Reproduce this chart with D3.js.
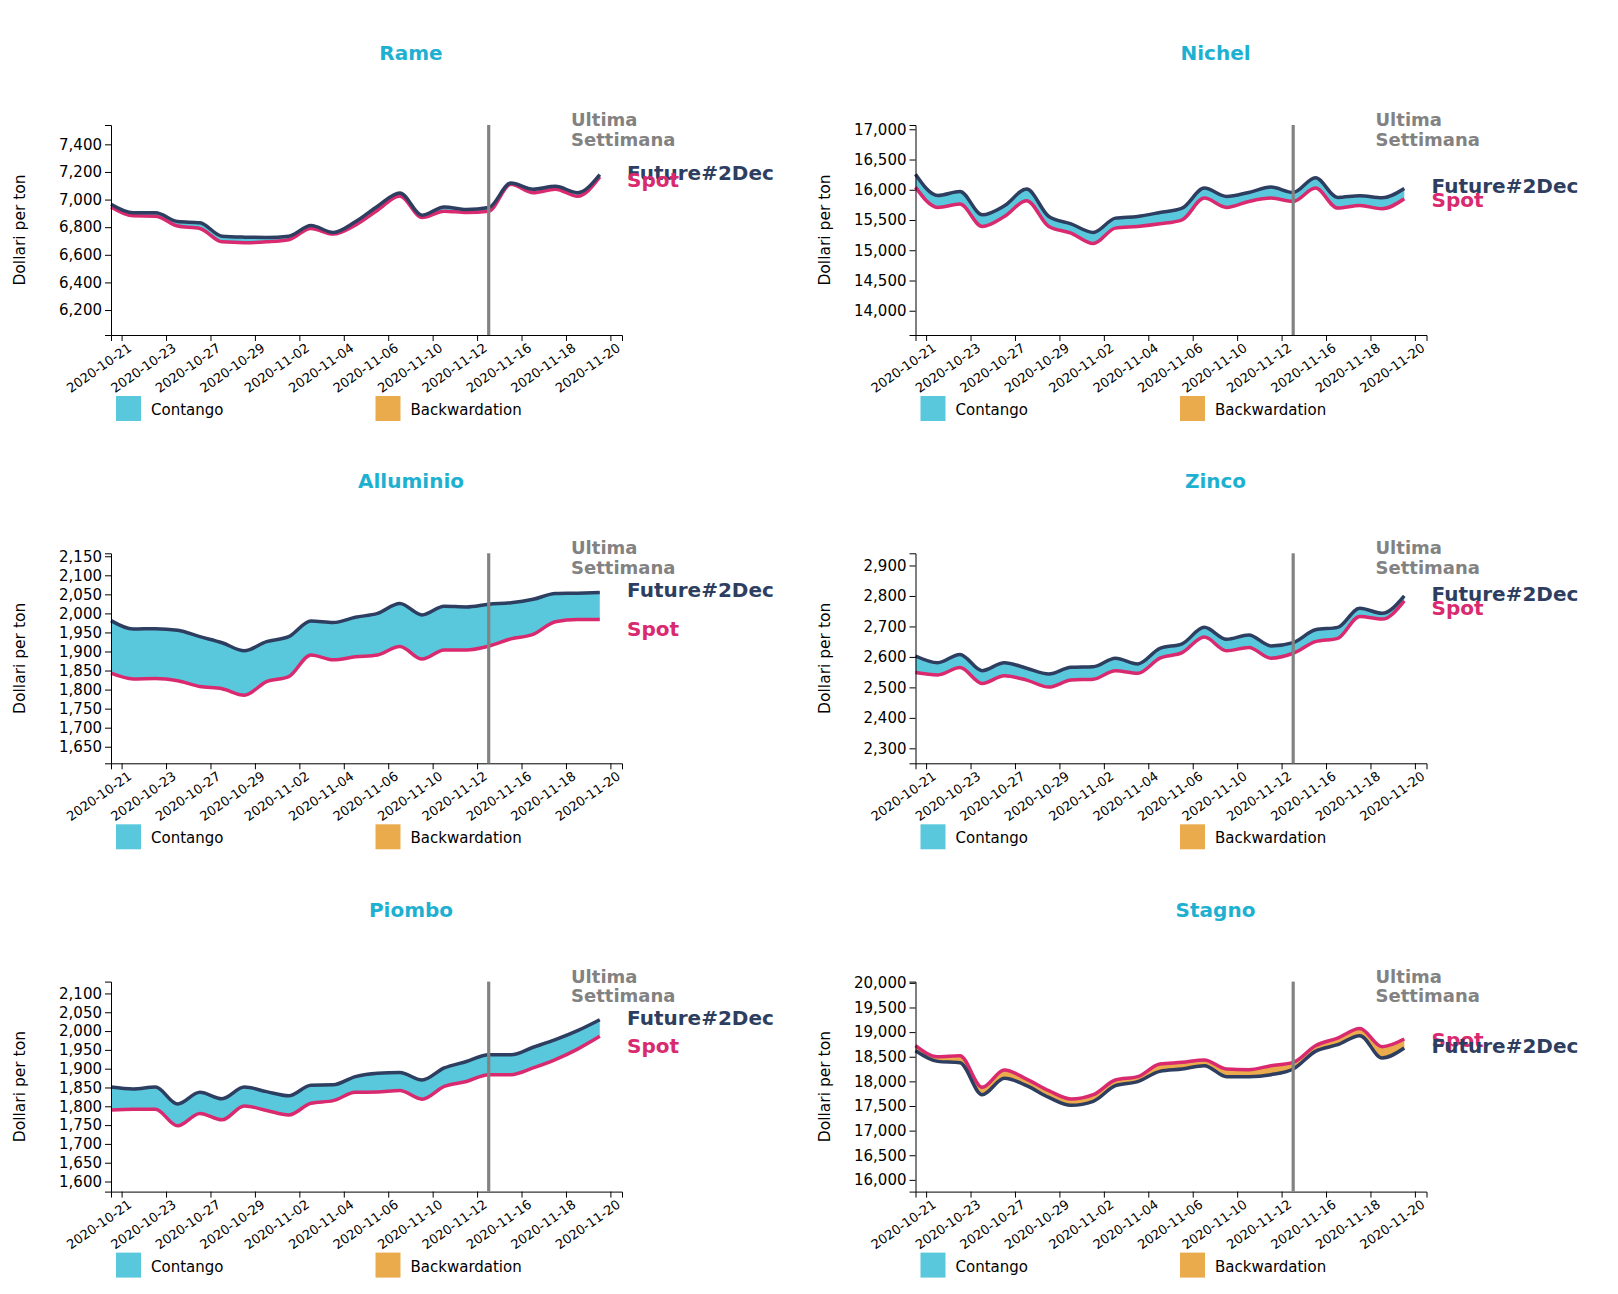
<!DOCTYPE html>
<html>
<head>
<meta charset="utf-8">
<script src="https://cdn.jsdelivr.net/npm/d3@7"></script>
<style>
  body { margin: 0; background: #fff; font-family: "DejaVu Sans", sans-serif; }
  svg text { font-family: "DejaVu Sans", sans-serif; }
</style>
</head>
<body>
<svg id="chart" width="1618" height="1294"></svg>
<script>
// ---------- data ----------
const dates = ["2020-10-21","2020-10-22","2020-10-23","2020-10-26","2020-10-27","2020-10-28",
  "2020-10-29","2020-10-30","2020-11-02","2020-11-03","2020-11-04","2020-11-05","2020-11-06",
  "2020-11-09","2020-11-10","2020-11-11","2020-11-12","2020-11-13","2020-11-16","2020-11-17",
  "2020-11-18","2020-11-19","2020-11-20"];
const tickDates = ["2020-10-21","2020-10-23","2020-10-27","2020-10-29","2020-11-02","2020-11-04",
  "2020-11-06","2020-11-10","2020-11-12","2020-11-16","2020-11-18","2020-11-20"];
const lastWeekStart = "2020-11-13";

const metals = ["Rame","Nichel","Alluminio","Zinco","Piombo","Stagno"];

const rameFuture = [6966,6904,6904,6841,6832,6735,6728,6726,6735,6812,6762,6839,6952,7048,6887,6947,6928,6942,7120,7075,7096,7050,7181];
const rameSpot   = [6947,6882,6880,6808,6791,6694,6688,6694,6709,6791,6750,6815,6923,7026,6870,6916,6906,6916,7111,7050,7075,7024,7164];

const nichelFuture = [16258,15906,15972,15586,15735,16011,15559,15437,15294,15531,15559,15625,15697,16028,15890,15956,16044,15956,16199,15873,15901,15868,16022];
const nichelSpot   = [16044,15708,15763,15393,15559,15818,15393,15283,15110,15366,15393,15437,15504,15862,15708,15807,15862,15807,16028,15697,15741,15686,15851];

const alluminioFuture = [1981,1959,1960,1956,1939,1923,1902,1926,1939,1980,1976,1990,2000,2026,1996,2019,2017,2024,2028,2037,2052,2053,2055];
const alluminioSpot   = [1843,1828,1829,1823,1808,1802,1785,1821,1834,1891,1878,1886,1891,1913,1880,1904,1904,1914,1933,1945,1978,1984,1984];

const zincoFuture = [2603,2581,2608,2555,2581,2563,2544,2566,2568,2596,2577,2628,2643,2697,2658,2672,2636,2647,2689,2697,2760,2743,2800];
const zincoSpot   = [2549,2541,2565,2513,2538,2524,2501,2524,2527,2555,2546,2596,2614,2665,2620,2631,2596,2612,2650,2661,2733,2724,2784];

const piomboFuture = [1851,1846,1851,1806,1837,1820,1851,1839,1828,1856,1857,1879,1888,1890,1870,1902,1919,1937,1937,1957,1977,2001,2030];
const piomboSpot   = [1790,1792,1792,1748,1781,1764,1801,1789,1777,1808,1815,1837,1838,1842,1819,1853,1866,1884,1884,1902,1924,1952,1986];

const stagnoFuture = [18622,18406,18379,17729,18061,17912,17675,17513,17594,17912,17993,18203,18250,18318,18095,18095,18135,18250,18609,18744,18927,18474,18677];
const stagnoSpot   = [18724,18501,18521,17878,18230,18047,17811,17641,17729,18027,18095,18352,18386,18433,18250,18237,18318,18386,18724,18880,19072,18704,18859];

const futureSeries = [rameFuture, nichelFuture, alluminioFuture, zincoFuture, piomboFuture, stagnoFuture];
const spotSeries   = [rameSpot, nichelSpot, alluminioSpot, zincoSpot, piomboSpot, stagnoSpot];

const legendLabels = ["Contango","Backwardation"];
const futureLabel = "Future#2Dec";
const spotLabel = "Spot";
const yLabel = "Dollari per ton";

// ---------- style ----------
const C_TITLE = "#1eb0d1";
const C_CONT = "#5ac8dc";
const C_BACK = "#eaab4d";
const C_FUT = "#2d3e61";
const C_SPOT = "#d9296f";
const C_GRAY = "#828282";
const SPOT_LABEL_SHIFT = 25; // label nudge, in price units

const W = 511, H = 210;
const svg = d3.select("#chart");
const x = d3.scaleBand().domain(dates).range([0, W]);

metals.forEach((name, i) => {
  const col = i % 2, row = Math.floor(i / 2);
  const px = 8 + col * 804.5, py = row * 428.3;
  const panel = svg.append("g").attr("transform", `translate(${px},${py})`);

  panel.append("text")
    .attr("x", 403).attr("y", 60)
    .attr("text-anchor", "middle")
    .attr("font-size", 20).attr("font-weight", "bold")
    .attr("fill", C_TITLE)
    .text(name);

  const g = panel.append("g").attr("transform", `translate(103,125)`);
  const fut = futureSeries[i], spot = spotSeries[i];
  const all = fut.concat(spot);
  const y = d3.scaleLinear().domain([d3.min(all) * 0.9, d3.max(all) * 1.05]).range([H, 0]);
  const rows = dates.map((d, k) => ({ d, f: fut[k], s: spot[k] }));
  const curve = d3.curveMonotoneX;

  g.append("path").datum(rows).attr("fill", C_CONT)
    .attr("d", d3.area().curve(curve).x(r => x(r.d)).y0(r => y(r.s)).y1(r => y(Math.max(r.f, r.s))));
  g.append("path").datum(rows).attr("fill", C_BACK)
    .attr("d", d3.area().curve(curve).x(r => x(r.d)).y0(r => y(r.f)).y1(r => y(Math.max(r.f, r.s))));

  g.append("path").datum(rows).attr("fill", "none").attr("stroke", C_SPOT).attr("stroke-width", 3.5)
    .attr("d", d3.line().curve(curve).x(r => x(r.d)).y(r => y(r.s)));
  g.append("path").datum(rows).attr("fill", "none").attr("stroke", C_FUT).attr("stroke-width", 3.5)
    .attr("d", d3.line().curve(curve).x(r => x(r.d)).y(r => y(r.f)));

  // axes
  const xa = g.append("g").attr("transform", `translate(0,${H})`)
    .call(d3.axisBottom(x).tickValues(tickDates));
  xa.selectAll("text")
    .attr("font-size", 13).attr("fill", "#000")
    .style("text-anchor", "end")
    .attr("transform", "rotate(-35)");
  const ya = g.append("g").call(d3.axisLeft(y).ticks(8));
  ya.selectAll("text").attr("font-size", 15).attr("fill", "#000");
  [xa, ya].forEach(a => { a.attr("font-family", null); a.selectAll("path,line").attr("stroke", "#000"); });

  g.append("text")
    .attr("transform", `translate(-86,${H / 2}) rotate(-90)`)
    .attr("text-anchor", "middle")
    .attr("font-size", 15.5).attr("fill", "#000")
    .text(yLabel);

  // last week marker
  g.append("line")
    .attr("x1", x(lastWeekStart)).attr("x2", x(lastWeekStart))
    .attr("y1", 0).attr("y2", H)
    .attr("stroke", C_GRAY).attr("stroke-width", 3.2);
  const ux = W - 51;
  const ut = g.append("text").attr("x", ux).attr("y", 1)
    .attr("font-size", 18).attr("font-weight", "bold").attr("fill", C_GRAY);
  ut.append("tspan").attr("x", ux).attr("dy", 0).text("Ultima");
  ut.append("tspan").attr("x", ux).attr("dy", 19.6).text("Settimana");

  // end labels
  const last = dates.length - 1;
  const labs = [
    { t: futureLabel, yy: y(fut[last]), c: C_FUT, dy: "0.25em" },
    { t: spotLabel, yy: y(spot[last] - SPOT_LABEL_SHIFT), c: C_SPOT, dy: "0.35em" }
  ].sort((a, b) => a.yy - b.yy);
  labs.forEach(l => {
    g.append("text").attr("x", W + 5).attr("y", l.yy).attr("dy", l.dy)
      .attr("font-size", 20).attr("font-weight", "bold").attr("fill", l.c).text(l.t);
  });

  // legend
  const leg = [C_CONT, C_BACK];
  legendLabels.forEach((lab, k) => {
    const lx = 5 + k * 259.5;
    g.append("rect").attr("x", lx).attr("y", 271).attr("width", 25).attr("height", 25).attr("fill", leg[k]);
    g.append("text").attr("x", lx + 35).attr("y", 290).attr("font-size", 15).attr("fill", "#000").text(lab);
  });
});
</script>
</body>
</html>
